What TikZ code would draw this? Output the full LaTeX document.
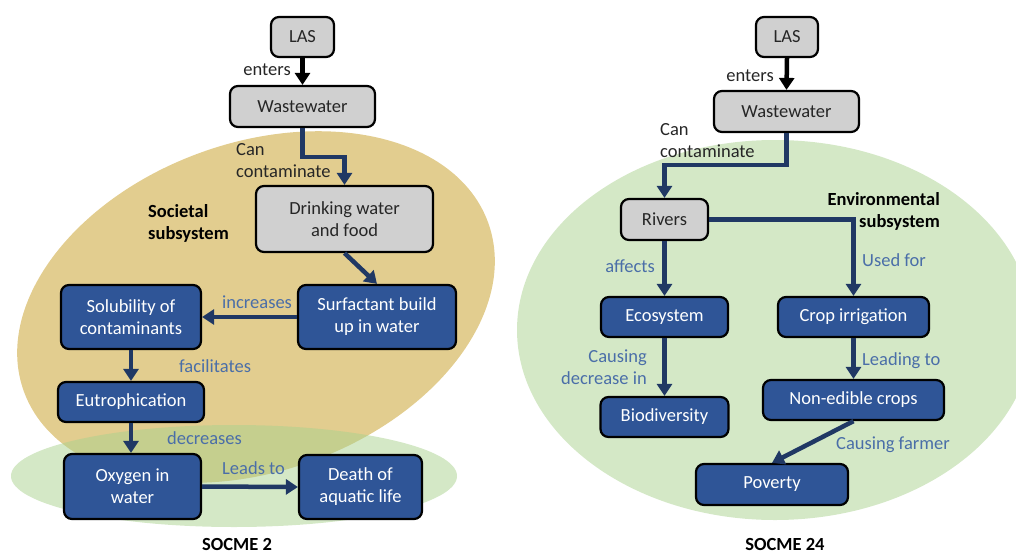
\documentclass[tikz,border=0pt]{standalone}
\usepackage{fontspec}
\setmainfont{Carlito}
\usetikzlibrary{arrows.meta}

\definecolor{boxblue}{HTML}{2F5597}
\definecolor{linkblue}{HTML}{203864}
\definecolor{labelblue}{HTML}{4A6EA8}
\definecolor{boxgray}{HTML}{D0D0D0}
\definecolor{tanfill}{HTML}{E2CD8F}
\definecolor{greenfill}{HTML}{A9D18E}
\definecolor{darktext}{HTML}{262626}

\begin{document}
\begin{tikzpicture}[x=1pt,y=-1pt,
  every node/.style={font=\fontsize{18.5}{22}\selectfont},
  boxbase/.style={draw=black, line width=2.2pt, rounded corners=8pt, align=center, inner sep=2pt},
  graybox/.style={boxbase, fill=boxgray, text=darktext},
  bluebox/.style={boxbase, fill=boxblue, text=white},
  link/.style={draw=linkblue, line width=4.5pt, -{Triangle[length=12pt,width=15pt]}},
  blacklink/.style={draw=black, line width=4.5pt, -{Triangle[length=12pt,width=15pt]}},
  lbl/.style={text=labelblue, inner sep=0pt},
  dlbl/.style={text=darktext, inner sep=0pt},
  heading/.style={font=\fontsize{18.5}{22}\selectfont\bfseries, inner sep=0pt, text=black}
]
\useasboundingbox (0,0) rectangle (1016,554);

% subsystem backgrounds
\begin{scope}
  \clip (0,0) rectangle (1016,554);
  \fill[tanfill, rotate around={20:(256,307)}] (256,307) ellipse [x radius=247pt, y radius=164pt];
  \fill[greenfill, opacity=0.5] (234,476) ellipse [x radius=223pt, y radius=51pt];
  \fill[greenfill, opacity=0.5] (775,330) ellipse [x radius=258pt, y radius=190pt];
\end{scope}

% ---------- SOCME 2 ----------
\node[graybox, minimum width=63pt, minimum height=40pt] (llas) at (302.5,37) {LAS};
\node[graybox, minimum width=145pt, minimum height=41pt] (lwaste) at (302.5,106.5) {Wastewater};
\node[graybox, minimum width=177pt, minimum height=66pt] (drink) at (344.5,219) {Drinking water\\and food};
\node[bluebox, minimum width=158pt, minimum height=64pt] (surf) at (377,317) {Surfactant build\\up in water};
\node[bluebox, minimum width=140pt, minimum height=64pt] (solub) at (131,317) {Solubility of\\contaminants};
\node[bluebox, minimum width=146pt, minimum height=40pt] (eutro) at (131,402) {Eutrophication};
\node[bluebox, minimum width=137pt, minimum height=65pt] (oxy) at (132.5,486.5) {Oxygen in\\water};
\node[bluebox, minimum width=123pt, minimum height=64pt] (death) at (360.5,487) {Death of\\aquatic life};

\draw[blacklink] (llas.south) -- (lwaste.north);
\draw[link] (lwaste.south) -- ++(0,29) -| (drink.north);
\draw[link] (drink.south) -- (surf.north);
\draw[link] (surf.west) -- (solub.east);
\draw[link] (solub.south) -- (eutro.north);
\draw[link] (eutro.south) -- (eutro.south |- oxy.north);
\draw[link] (oxy.east) -- (death.west);

\node[dlbl, anchor=east] (lenters) at (291,70) {enters};
\node[dlbl, anchor=west, align=left] (lcan) at (236,161) {Can\\contaminate};
\node[heading, anchor=west, align=left] (soc) at (148,223) {Societal\\subsystem};
\node[lbl, anchor=west] (incr) at (222,302) {increases};
\node[lbl, anchor=west] (facil) at (179,366) {facilitates};
\node[lbl, anchor=west] (decr) at (167,438) {decreases};
\node[lbl, anchor=west] (leads) at (222,468) {Leads to};
\node[heading] (socme2) at (237,544) {SOCME 2};

% ---------- SOCME 24 ----------
\node[graybox, minimum width=62pt, minimum height=40pt] (rlas) at (787,37) {LAS};
\node[graybox, minimum width=145pt, minimum height=41pt] (rwaste) at (786.5,111.5) {Wastewater};
\node[graybox, minimum width=87pt, minimum height=41pt] (rivers) at (664.5,219.5) {Rivers};
\node[bluebox, minimum width=127pt, minimum height=40pt] (eco) at (664.5,317) {Ecosystem};
\node[bluebox, minimum width=151pt, minimum height=40pt] (crop) at (853.5,317) {Crop irrigation};
\node[bluebox, minimum width=128pt, minimum height=40pt] (bio) at (664.5,417) {Biodiversity};
\node[bluebox, minimum width=181pt, minimum height=40pt] (nonedible) at (853.5,400) {Non-edible crops};
\node[bluebox, minimum width=152pt, minimum height=41pt] (poverty) at (772,484.5) {Poverty};

\draw[blacklink] (rlas.south) -- (rwaste.north);
\draw[link] (rwaste.south) -- ++(0,32) -| (rivers.north);
\draw[link] (rivers.east) -| (crop.north);
\draw[link] (rivers.south) -- (eco.north);
\draw[link] (eco.south) -- (bio.north);
\draw[link] (crop.south) -- (nonedible.north);
\draw[link] (nonedible.south) -- (poverty.north);

\node[dlbl, anchor=east] (renters) at (774,76) {enters};
\node[dlbl, anchor=west, align=left] (rcan) at (660,141) {Can\\contaminate};
\node[heading, anchor=east, align=right] (env) at (940,211) {Environmental\\subsystem};
\node[lbl, anchor=east] (affects) at (655,266) {affects};
\node[lbl, anchor=west] (usedfor) at (862,260) {Used for};
\node[lbl, anchor=east, align=right] (causedec) at (647,367) {Causing\\decrease in};
\node[lbl, anchor=west] (leading) at (862,361) {Leading to};
\node[lbl, anchor=west] (farmer) at (836,445) {Causing farmer};
\node[heading] (socme24) at (785,544) {SOCME 24};
\end{tikzpicture}
\end{document}
